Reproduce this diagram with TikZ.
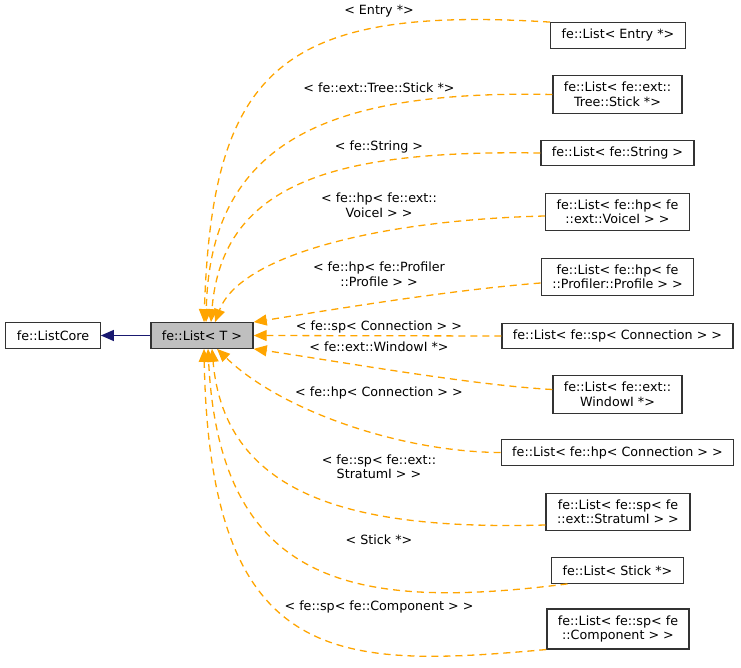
\documentclass[tikz,border=0pt]{standalone}
\usepackage{fontspec}
\setmainfont{DejaVu Sans}
\usepackage{tikz}
\usetikzlibrary{arrows.meta}
\definecolor{edgeorange}{HTML}{FFA500}
\definecolor{edgenavy}{HTML}{191970}
\definecolor{basefill}{HTML}{BFBFBF}
\definecolor{boxline}{HTML}{333333}
\newcommand{\dgfont}{\fontsize{12.7}{14.5}\selectfont}
\tikzset{
  cls/.style={draw=boxline, line width=1.3pt, fill=white, inner xsep=11pt, inner ysep=6.5pt,
    minimum height=25.5pt, align=center, font=\dgfont},
  base/.style={cls, fill=basefill},
  inh/.style={draw=edgeorange, line width=1.3pt, dash pattern=on 7pt off 5pt,
    -{Triangle[length=13pt,width=11pt]}},
  core/.style={draw=edgenavy, line width=1.3pt, -{Triangle[length=13pt,width=11pt]}},
  lab/.style={font=\dgfont, align=center, inner sep=0pt}
}

\begin{document}
\begin{tikzpicture}[x=1pt, y=-1pt]
  \useasboundingbox (0,0) rectangle (741,668);

  % classes
  \node[cls]  (listcore)  at (53,335.5)   {fe::ListCore};
  \node[base] (listT)     at (202,335.5)  {fe::List< T >};
  \node[cls]  (entry)     at (618,35.5)   {fe::List< Entry *>};
  \node[cls]  (treestick) at (617.5,94.5) {fe::List< fe::ext::\\Tree::Stick *>};
  \node[cls]  (string)    at (617.5,153)  {fe::List< fe::String >};
  \node[cls]  (voice)     at (617.5,212)  {fe::List< fe::hp< fe\\::ext::VoiceI > >};
  \node[cls]  (profile)   at (617.5,277)  {fe::List< fe::hp< fe\\::Profiler::Profile > >};
  \node[cls]  (spconn)    at (617.5,336)  {fe::List< fe::sp< Connection > >};
  \node[cls]  (window)    at (617.5,394.5){fe::List< fe::ext::\\WindowI *>};
  \node[cls]  (hpconn)    at (617.5,452.5){fe::List< fe::hp< Connection > >};
  \node[cls]  (stratum)   at (618,512)    {fe::List< fe::sp< fe\\::ext::StratumI > >};
  \node[cls]  (stick)     at (617.5,570.5){fe::List< Stick *>};
  \node[cls]  (component) at (618,629)    {fe::List< fe::sp< fe\\::Component > >};

  % template arguments
  \node[lab] (lEntry)     at (379,11)    {< Entry *>};
  \node[lab] (lTree)      at (379,88)    {< fe::ext::Tree::Stick *>};
  \node[lab] (lString)    at (379,146.5) {< fe::String >};
  \node[lab] (lVoice)     at (379,205.5) {< fe::hp< fe::ext::\\VoiceI > >};
  \node[lab] (lProfile)   at (379,274.5) {< fe::hp< fe::Profiler\\::Profile > >};
  \node[lab] (lSpconn)    at (379,327)   {< fe::sp< Connection > >};
  \node[lab] (lWindow)    at (379,347)   {< fe::ext::WindowI *>};
  \node[lab] (lHpconn)    at (379,393)   {< fe::hp< Connection > >};
  \node[lab] (lStratum)   at (379,467)   {< fe::sp< fe::ext::\\StratumI > >};
  \node[lab] (lStick)     at (379,540)   {< Stick *>};
  \node[lab] (lComponent) at (379,607)   {< fe::sp< fe::Component > >};

  % inheritance
  \draw[core] (listT.west) -- (listcore.east);

  \draw[inh] (entry.north west) .. controls (280,5) and (212,70) .. ([xshift=2pt]listT.north);
  \draw[inh] (treestick.west) .. controls (330,90) and (210,140) .. ([xshift=4pt]listT.north);
  \draw[inh] (string.west) .. controls (340,150) and (222,180) .. ([xshift=9pt]listT.north);
  \draw[inh] ([yshift=-4pt]voice.west) .. controls (380,220) and (240,255) .. ([xshift=13pt]listT.north);
  \draw[inh] ([yshift=-6pt]profile.west) .. controls (450,290) and (330,310) .. (listT.north east);
  \draw[inh] (spconn.west) -- (listT.east);
  \draw[inh] ([yshift=5pt]window.west) .. controls (470,385) and (330,360) .. (listT.south east);
  \draw[inh] (hpconn.west) .. controls (400,452) and (280,410) .. ([xshift=15pt]listT.south);
  \draw[inh] ([yshift=-13pt]stratum.west) .. controls (360,530) and (225,500) .. ([xshift=10pt]listT.south);
  \draw[inh] ([xshift=-50pt]stick.south) .. controls (360,610) and (220,590) .. ([xshift=6pt]listT.south);
  \draw[inh] (component.south west) .. controls (340,668) and (210,670) .. ([xshift=2pt]listT.south);
\end{tikzpicture}
\end{document}
